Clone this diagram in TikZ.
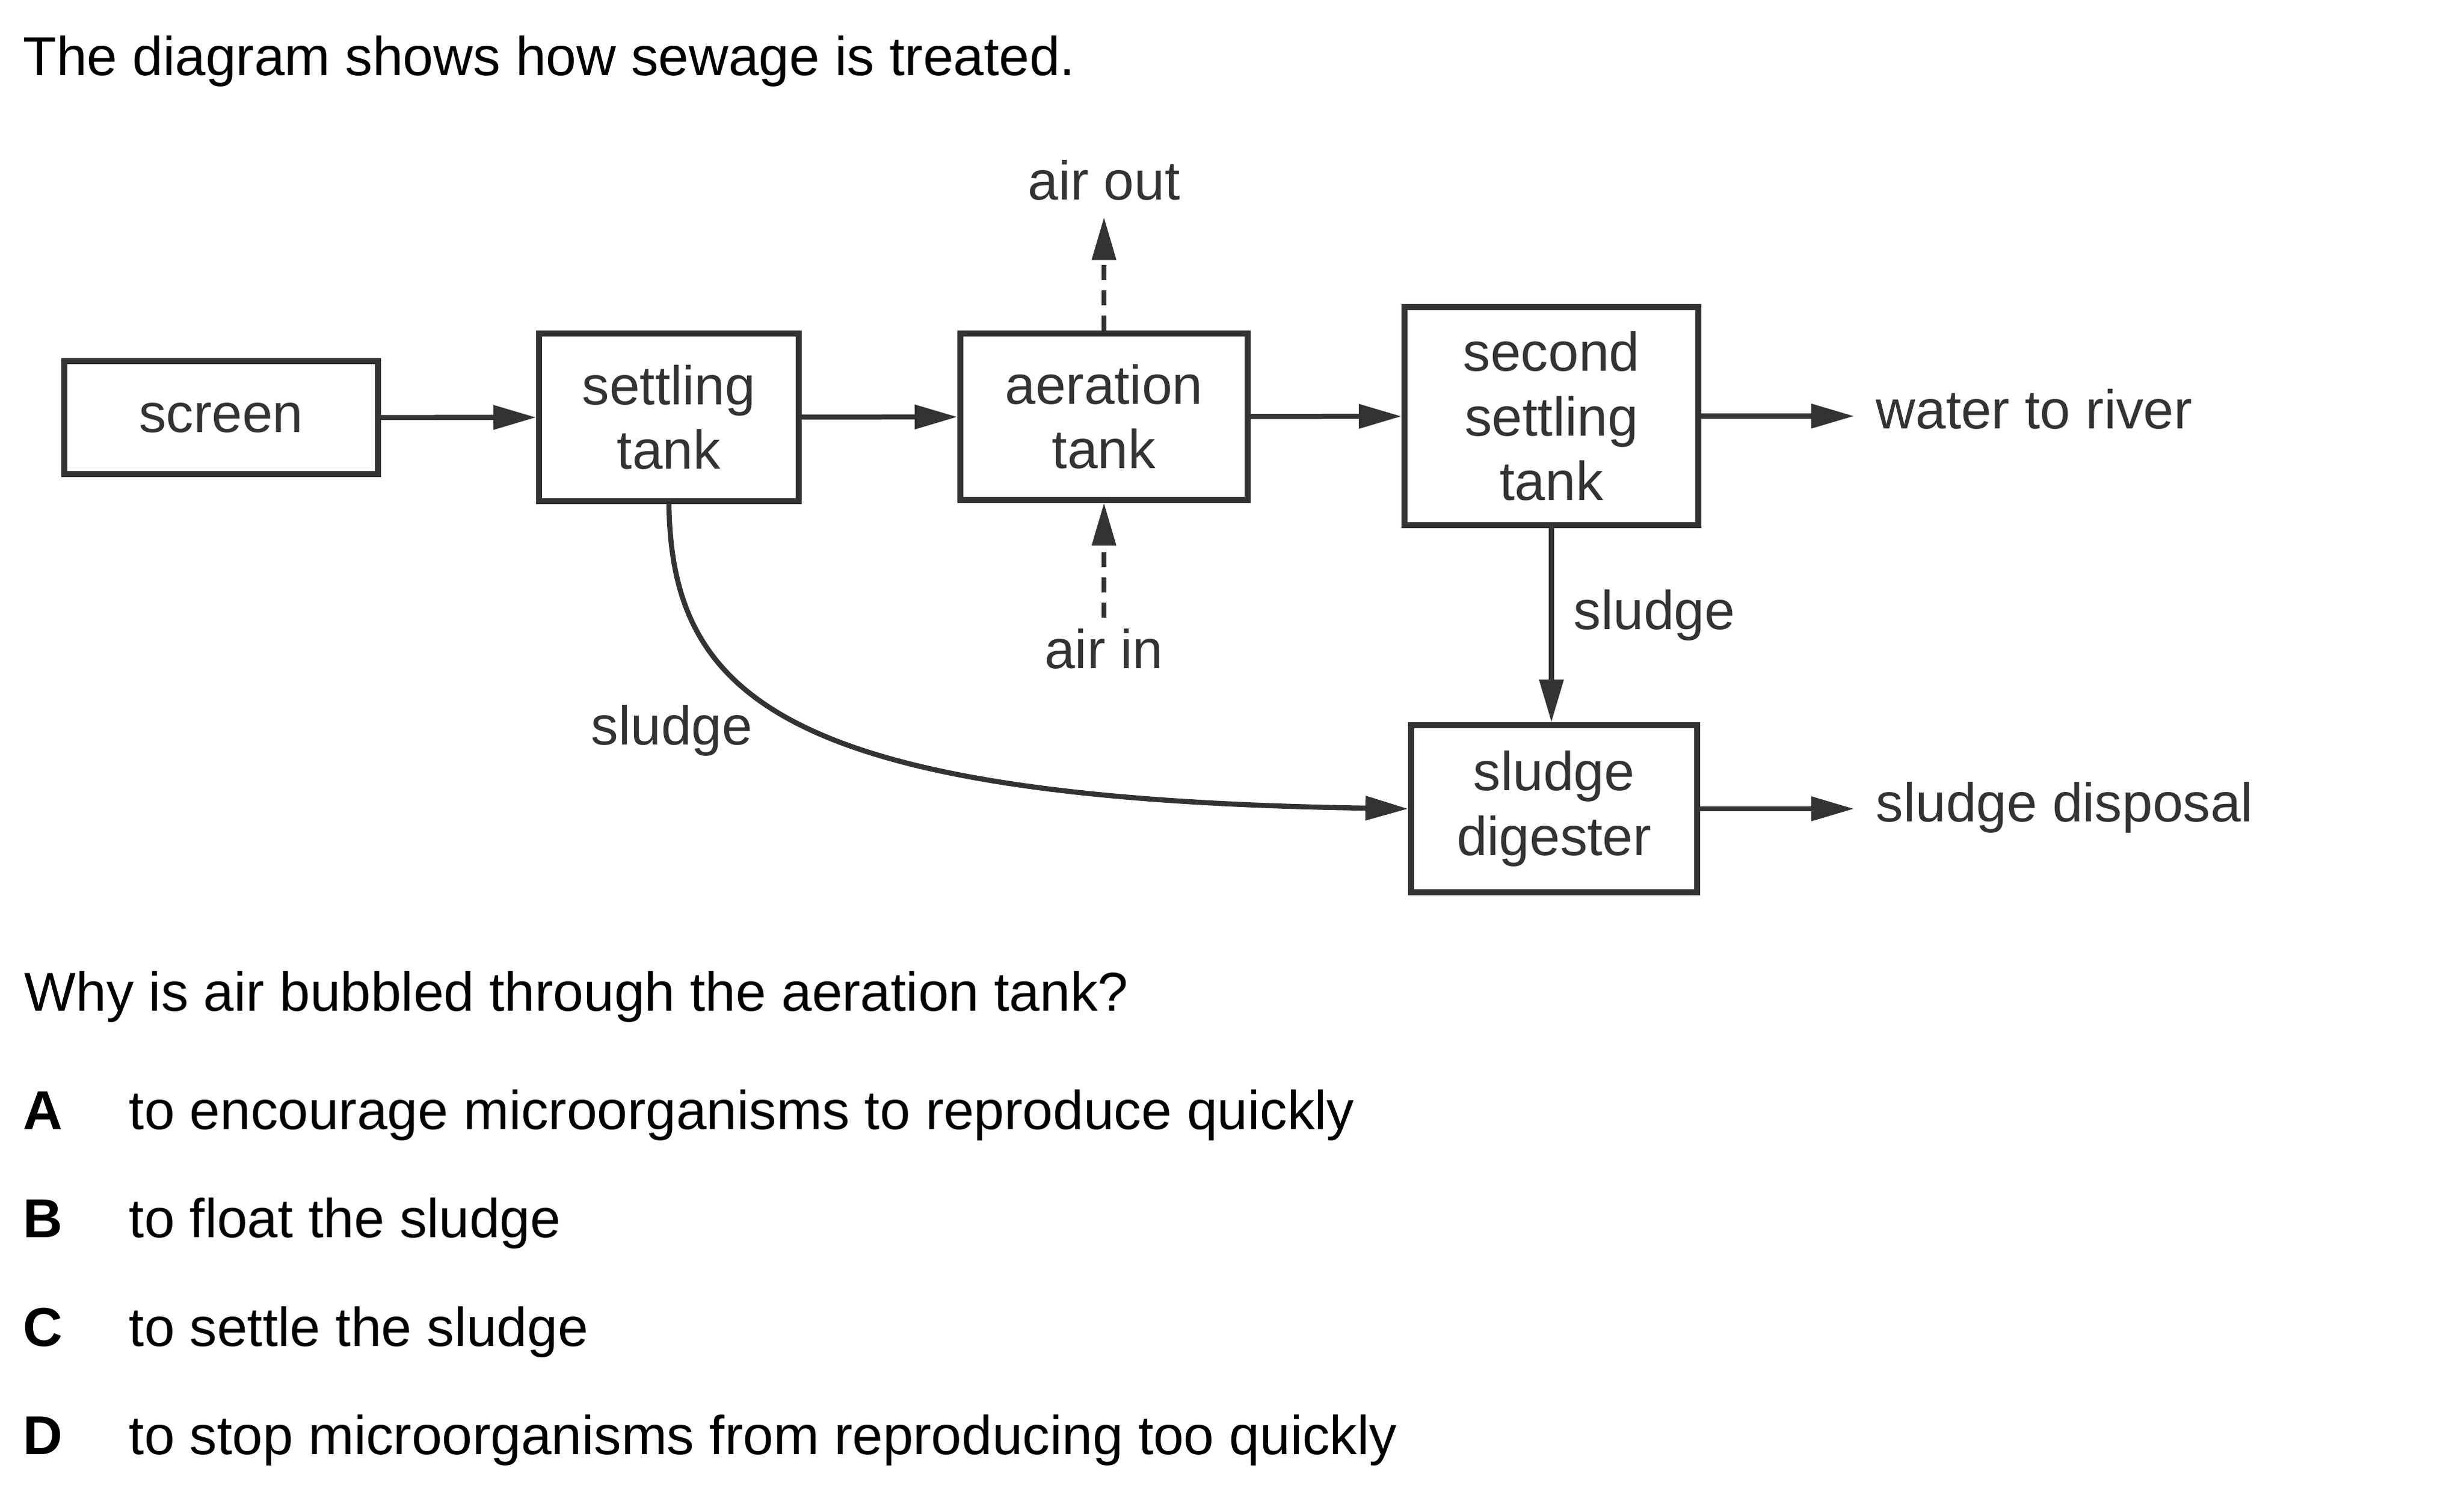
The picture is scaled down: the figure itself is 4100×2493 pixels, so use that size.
\documentclass[tikz,border=0pt]{standalone}
\usepackage{fontspec}
\setmainfont{Liberation Sans}
\usepackage{tikz}
\usetikzlibrary{arrows.meta}
\newcommand{\sewfont}{\fontsize{25.9pt}{30.7pt}\selectfont}
\colorlet{inkgray}{black!80}
\tikzset{
	tank/.style={draw, line width=1mm, align=center, inner sep=0pt},
	flow/.style={line width=0.85mm, -{Triangle[length=7.1mm, width=3.9mm]}},
	airflow/.style={flow, line width=0.8mm, dash pattern=on 2.5mm off 1.7mm},
	lbl/.style={inner sep=0pt, anchor=base west},
	letter/.style={lbl, font=\sewfont\bfseries}
}
\begin{document}
\begin{tikzpicture}[x=0.1mm, y=-0.1mm, font=\sewfont]
		%%%%% START %%%%%
		
		\path[fill=white, use as bounding box] (0, 0) rectangle (4100, 2493);
		
		\node[lbl] (title) at (38, 126) {The diagram shows how sewage is treated.};
		
		\begin{scope}[color=inkgray]
		\node[tank, minimum width=52.2mm, minimum height=18.8mm] (screen) at (368, 695) {screen};
		\node[tank, minimum width=43.2mm, minimum height=27.9mm] (settle) at (1113, 694.5) {settling\\tank};
		\node[tank, minimum width=47.8mm, minimum height=27.7mm] (aerate) at (1837, 693.5) {aeration\\tank};
		\node[tank, minimum width=48.9mm, minimum height=36.3mm] (second) at (2581.5, 692.5) {second\\settling\\tank};
		\node[tank, minimum width=47.6mm, minimum height=27.8mm] (digest) at (2586, 1346) {sludge\\digester};
		
		\node[lbl, anchor=base, inner ysep=2.7mm] (airout) at (1837, 333) {air out};
		\node[lbl, anchor=base, inner ysep=1.8mm] (airin) at (1837, 1113) {air in};
		\node[lbl] (river) at (3121, 714) {water to river};
		\node[lbl] (disposal) at (3121, 1368) {sludge disposal};
		\node[lbl] (sludgeB) at (2618, 1048) {sludge};
		\node[lbl, anchor=base] (sludgeA) at (1118, 1240) {sludge};
		
		\draw[flow] (screen) -- (settle);
		\draw[flow] (settle) -- (aerate);
		\draw[flow] (aerate) -- (second);
		\draw[flow, shorten >=3.6mm] (second.east) -- (second.east -| river.west);
		\draw[flow] (second.south) -- (second.south |- digest.north);
		\draw[flow, shorten >=3.6mm] (digest.east) -- (digest.east -| disposal.west);
		\draw[airflow] (airin.north) -- (aerate.south);
		\draw[airflow] (aerate.north) -- (airout.south);
		\draw[flow] (settle.south) .. controls +(5, 316) and +(-1048, -16) .. (digest.west);
		\end{scope}
		
		\node[lbl] (question) at (40, 1683) {Why is air bubbled through the aeration tank?};
		\node[letter] (keyA) at (38, 1879) {A};
		\node[lbl] (optA) at (214, 1879) {to encourage microorganisms to reproduce quickly};
		\node[letter] (keyB) at (38, 2059) {B};
		\node[lbl] (optB) at (214, 2059) {to float the sludge};
		\node[letter] (keyC) at (38, 2240) {C};
		\node[lbl] (optC) at (214, 2240) {to settle the sludge};
		\node[letter] (keyD) at (38, 2420) {D};
		\node[lbl] (optD) at (214, 2420) {to stop microorganisms from reproducing too quickly};
		
		%%%%% END %%%%%
	\end{tikzpicture}
\end{document}
